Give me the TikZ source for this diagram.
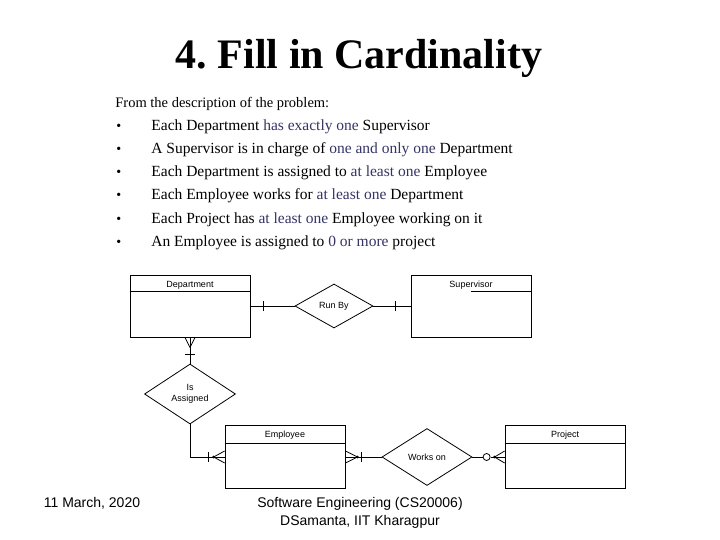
\documentclass[tikz,border=0pt]{standalone}
\usepackage{fontspec}
\setmainfont{Liberation Serif}
\newfontfamily\diagfont{Liberation Sans}
\usetikzlibrary{positioning,shapes.geometric}
\definecolor{hlblue}{RGB}{51,51,102}
\newcommand{\hl}[1]{\textcolor{hlblue}{#1}}

\tikzset{
  entity/.style={draw, rectangle, minimum width=120pt, minimum height=62pt, inner sep=0pt},
  relation/.style={draw, diamond, inner sep=0pt, align=center, font=\diagfont\fontsize{9}{11}\selectfont},
  entname/.style={font=\diagfont\fontsize{9}{10}\selectfont, inner sep=0pt},
  bodytext/.style={anchor=base west, inner sep=0pt, font=\fontsize{15.5}{17}\selectfont},
  foottext/.style={align=center, font=\diagfont\fontsize{14}{18.5}\selectfont}
}

\begin{document}
\begin{tikzpicture}[x=1pt, y=-1pt, line width=0.8pt]
\useasboundingbox (0,0) rectangle (720,540);

\node[font=\bfseries\fontsize{42}{46}\selectfont] (title) at (359,58) {4.\ Fill in Cardinality};

\node[bodytext, font=\fontsize{14.5}{17}\selectfont] (intro) at (115,108) {From the description of the problem:};
\foreach \i/\txt in {1/{Each Department \hl{has exactly one} Supervisor},
                     2/{A Supervisor is in charge of \hl{one and only one} Department},
                     3/{Each Department is assigned to \hl{at least one} Employee},
                     4/{Each Employee works for \hl{at least one} Department},
                     5/{Each Project has \hl{at least one} Employee working on it},
                     6/{An Employee is assigned to \hl{0 or more} project}} {
    \node[bodytext, font=\fontsize{14}{17}\selectfont] (bul\i) at (116,108+23*\i) {\textbullet};
    \node[bodytext] (item\i) at (151,108+23*\i) {\txt};
}

% entities and relations
\node[entity] (dept) at (190,306) {};
\node[entity] (sup) at (471,306) {};
\node[entity, minimum height=63pt] (emp) at (285,457) {};
\node[entity, minimum height=63pt] (proj) at (565,457) {};

\node[relation, minimum width=78pt, minimum height=44pt] (runby) at (334,306) {Run By};
\node[relation, minimum width=91pt, minimum height=60pt] (assigned) at (190,394) {Is\\Assigned};
\node[relation, minimum width=90pt, minimum height=57pt] (works) at (427,457) {Works on};

\node[entname] (deptname) at ([yshift=-11pt]dept.north) {Department};
\node[entname] (supname) at ([yshift=-11pt]sup.north) {Supervisor};
\node[entname] (empname) at ([yshift=-10pt]emp.north) {Employee};
\node[entname] (projname) at ([yshift=-10pt]proj.north) {Project};

\draw ([yshift=-17pt]dept.north west) -- ([yshift=-17pt]dept.north east);
\draw ([xshift=60pt,yshift=-17pt]sup.north west) -- ([yshift=-17pt]sup.north east);
\draw ([yshift=-18pt]emp.north west) -- ([yshift=-18pt]emp.north east);
\draw ([yshift=-18pt]proj.north west) -- ([yshift=-18pt]proj.north east);

% Department -- Run By -- Supervisor
\draw (dept.east) -- (runby.west);
\draw ([xshift=13pt]dept.east) ++(0,-5) -- ++(0,10);
\draw (runby.east) -- (sup.west);
\draw ([xshift=-15pt]sup.west) ++(0,-5) -- ++(0,10);

% Department -- Is Assigned -- Employee
\draw (dept.south) -- (assigned.north);
\draw ([yshift=-10pt]dept.south) -- ([xshift=-5pt]dept.south);
\draw ([yshift=-10pt]dept.south) -- ([xshift=5pt]dept.south);
\draw ([yshift=-17pt]dept.south) ++(-5,0) -- ++(10,0);
\draw (assigned.south) |- (emp.west);
\draw ([xshift=-16pt]emp.west) ++(0,-5) -- ++(0,10);
\fill ([xshift=-11pt]emp.west) circle (1.5pt);
\draw ([xshift=-11pt]emp.west) -- ([yshift=-6pt]emp.west);
\draw ([xshift=-11pt]emp.west) -- ([yshift=6pt]emp.west);

% Employee -- Works on -- Project
\draw (emp.east) -- (works.west);
\fill ([xshift=12pt]emp.east) circle (1.5pt);
\draw ([xshift=12pt]emp.east) -- ([yshift=-6pt]emp.east);
\draw ([xshift=12pt]emp.east) -- ([yshift=6pt]emp.east);
\draw ([xshift=16pt]emp.east) ++(0,-5) -- ++(0,10);
\node[draw, circle, fill=white, inner sep=0pt, minimum size=7pt] (zero) at ([xshift=-18pt]proj.west) {};
\draw (works.east) -- (zero.west);
\draw (zero.east) -- (proj.west);
\fill ([xshift=-10pt]proj.west) circle (1.5pt);
\draw ([xshift=-10pt]proj.west) -- ([yshift=-6pt]proj.west);
\draw ([xshift=-10pt]proj.west) -- ([yshift=6pt]proj.west);

% footer
\node[foottext] (date) at (92,503) {11 March, 2020};
\node[foottext] (course) at (360,513) {Software Engineering (CS20006)\\DSamanta, IIT Kharagpur};
\end{tikzpicture}
\end{document}
